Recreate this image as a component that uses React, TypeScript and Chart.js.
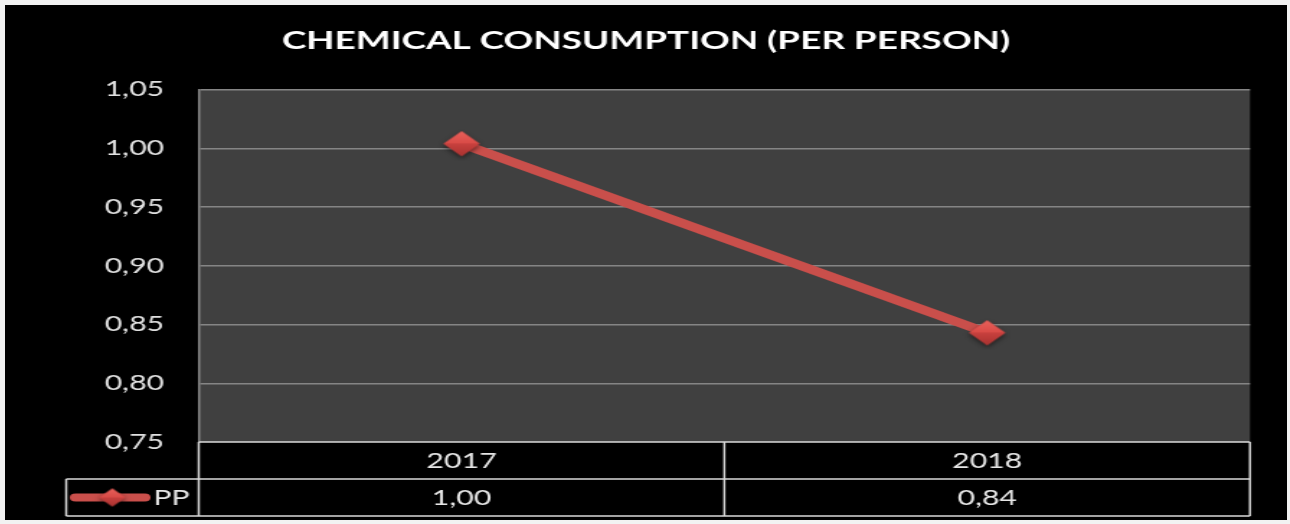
import { useEffect, useRef } from "react";
import { Chart, registerables } from "chart.js";

Chart.register(...registerables);

// Chart data
const years = ["2017", "2018"];
const ppValues = [1.004, 0.843];
const seriesName = "PP";
const chartTitle = "CHEMICAL CONSUMPTION (PER PERSON)";
const yMin = 0.75;
const yMax = 1.05;
const yStep = 0.05;

const fmt = (v: number) => v.toFixed(2).replace(".", ",");

const LINE_COLOR = "#c94f4b";
const FONT_FAMILY = "Lato, 'Open Sans', sans-serif";
const ROW_H = 37;

// Bevelled diamond marker used for the series points
function makeDiamond(size: number): HTMLCanvasElement {
  const pad = 5;
  const c = document.createElement("canvas");
  c.width = size + pad * 2;
  c.height = size + pad * 2;
  const ctx = c.getContext("2d")!;
  const cx = c.width / 2;
  const cy = c.height / 2;
  const r = size / 2;
  ctx.save();
  ctx.shadowColor = "rgba(0,0,0,0.55)";
  ctx.shadowBlur = 4;
  ctx.shadowOffsetY = 2;
  ctx.beginPath();
  ctx.moveTo(cx, cy - r);
  ctx.lineTo(cx + r, cy);
  ctx.lineTo(cx, cy + r);
  ctx.lineTo(cx - r, cy);
  ctx.closePath();
  ctx.fillStyle = "#c13f3c";
  ctx.fill();
  ctx.restore();
  // upper facet
  const g = ctx.createLinearGradient(cx, cy - r, cx, cy);
  g.addColorStop(0, "#e8615b");
  g.addColorStop(1, "#d94a46");
  ctx.beginPath();
  ctx.moveTo(cx, cy - r);
  ctx.lineTo(cx + r, cy);
  ctx.lineTo(cx - r, cy);
  ctx.closePath();
  ctx.fillStyle = g;
  ctx.fill();
  // lower facet
  const g2 = ctx.createLinearGradient(cx, cy, cx, cy + r);
  g2.addColorStop(0, "#c8413e");
  g2.addColorStop(1, "#a83230");
  ctx.beginPath();
  ctx.moveTo(cx - r, cy);
  ctx.lineTo(cx + r, cy);
  ctx.lineTo(cx, cy + r);
  ctx.closePath();
  ctx.fillStyle = g2;
  ctx.fill();
  return c;
}

export default function App() {
  const ref = useRef<HTMLCanvasElement | null>(null);

  useEffect(() => {
    const canvas = ref.current;
    if (!canvas) return;
    const marker = makeDiamond(25);
    const legendMarker = makeDiamond(18);

    const backgroundPlugin = {
      id: "backgrounds",
      beforeDraw(chart: any) {
        const { ctx, chartArea } = chart;
        ctx.save();
        ctx.fillStyle = "#000000";
        ctx.fillRect(0, 0, chart.width, chart.height);
        ctx.fillStyle = "#404040";
        ctx.fillRect(
          chartArea.left,
          chartArea.top,
          chartArea.right - chartArea.left,
          chartArea.bottom - chartArea.top
        );
        ctx.restore();
      },
    };

    const dataTablePlugin = {
      id: "dataTable",
      afterDraw(chart: any) {
        const { ctx, chartArea } = chart;
        const xs = chart.scales.x;
        const top = chartArea.bottom;
        const mid = top + ROW_H;
        const bot = top + ROW_H * 2;
        const left = chartArea.left;
        const right = chartArea.right;
        const legendLeft = 42.5;
        const centers = years.map((_, i) => xs.getPixelForValue(i));
        const splits = [left];
        for (let i = 0; i < centers.length - 1; i++) splits.push((centers[i] + centers[i + 1]) / 2);
        splits.push(right);

        ctx.save();
        ctx.strokeStyle = "#d9d9d9";
        ctx.lineWidth = 1.5;
        ctx.beginPath();
        ctx.moveTo(left, top);
        ctx.lineTo(right, top);
        ctx.moveTo(legendLeft, mid);
        ctx.lineTo(right, mid);
        ctx.moveTo(legendLeft, bot);
        ctx.lineTo(right, bot);
        splits.forEach((sx) => {
          ctx.moveTo(sx, top);
          ctx.lineTo(sx, bot);
        });
        ctx.moveTo(legendLeft, mid);
        ctx.lineTo(legendLeft, bot);
        ctx.stroke();

        ctx.fillStyle = "#e6e6e6";
        ctx.font = `21px ${FONT_FAMILY}`;
        ctx.textAlign = "center";
        ctx.textBaseline = "middle";
        years.forEach((y, i) => ctx.fillText(y, centers[i], top + ROW_H / 2 + 1));
        ppValues.forEach((v, i) => ctx.fillText(fmt(v), centers[i], mid + ROW_H / 2 + 1));

        // legend key
        const ky = mid + ROW_H / 2;
        ctx.strokeStyle = LINE_COLOR;
        ctx.lineWidth = 8;
        ctx.lineCap = "round";
        ctx.beginPath();
        ctx.moveTo(49, ky);
        ctx.lineTo(97, ky);
        ctx.stroke();
        ctx.drawImage(
          legendMarker,
          74.5 - legendMarker.width / 2,
          ky - legendMarker.height / 2
        );
        ctx.textAlign = "left";
        ctx.fillText(seriesName, 103, ky + 1);
        ctx.restore();
      },
    };

    const chart = new Chart(canvas, {
      type: "line",
      data: {
        labels: years,
        datasets: [
          {
            label: seriesName,
            data: ppValues,
            borderColor: LINE_COLOR,
            backgroundColor: LINE_COLOR,
            borderWidth: 8.5,
            pointStyle: marker as any,
            pointRadius: 12.5,
            pointHoverRadius: 12.5,
            tension: 0,
          },
        ],
      },
      options: {
        responsive: false,
        animation: false,
        events: [],
        layout: { padding: { top: 0, left: 0, right: 0, bottom: 4 } },
        plugins: {
          legend: { display: false },
          tooltip: { enabled: false },
          title: {
            display: true,
            text: chartTitle,
            color: "#ffffff",
            font: { family: FONT_FAMILY, size: 25.6, weight: "bold", lineHeight: 1.2 },
            padding: { top: 20.5, bottom: 33.5 },
          },
        },
        scales: {
          x: {
            type: "category",
            offset: true,
            grid: { display: false },
            border: { display: false },
            ticks: { display: false },
            afterFit(scale: any) {
              scale.height = ROW_H * 2;
            },
          },
          y: {
            min: yMin,
            max: yMax,
            ticks: {
              stepSize: yStep,
              color: "#e0e0e0",
              padding: 24,
              font: { family: FONT_FAMILY, size: 21 },
              callback: (v: any) => fmt(Number(v)),
            },
            grid: {
              drawTicks: false,
              lineWidth: 1.5,
              color: (c: any) =>
                Math.abs(c.tick.value - yMin) < 1e-9 ? "rgba(0,0,0,0)" : "#858585",
            },
            border: { display: true, color: "#858585", width: 1.5 },
            afterFit(scale: any) {
              scale.width = 134.5;
            },
          },
          // empty right-hand margin beside the plot
          yRight: {
            position: "right",
            display: true,
            grid: { display: false },
            border: { display: false },
            ticks: { display: false },
            afterFit(scale: any) {
              scale.width = 25.7;
            },
          },
        },
      },
      plugins: [backgroundPlugin, dataTablePlugin],
    });

    return () => chart.destroy();
  }, []);

  return (
    <div
      style={{
        position: "fixed",
        left: 0,
        top: 0,
        width: 1290,
        height: 524,
        background: "#f2f2f2",
        overflow: "hidden",
      }}
    >
      <canvas
        ref={ref}
        width={890}
        height={515}
        style={{ position: "absolute", left: 5, top: 5, width: "1282px", height: "515px" }}
      />
    </div>
  );
}
